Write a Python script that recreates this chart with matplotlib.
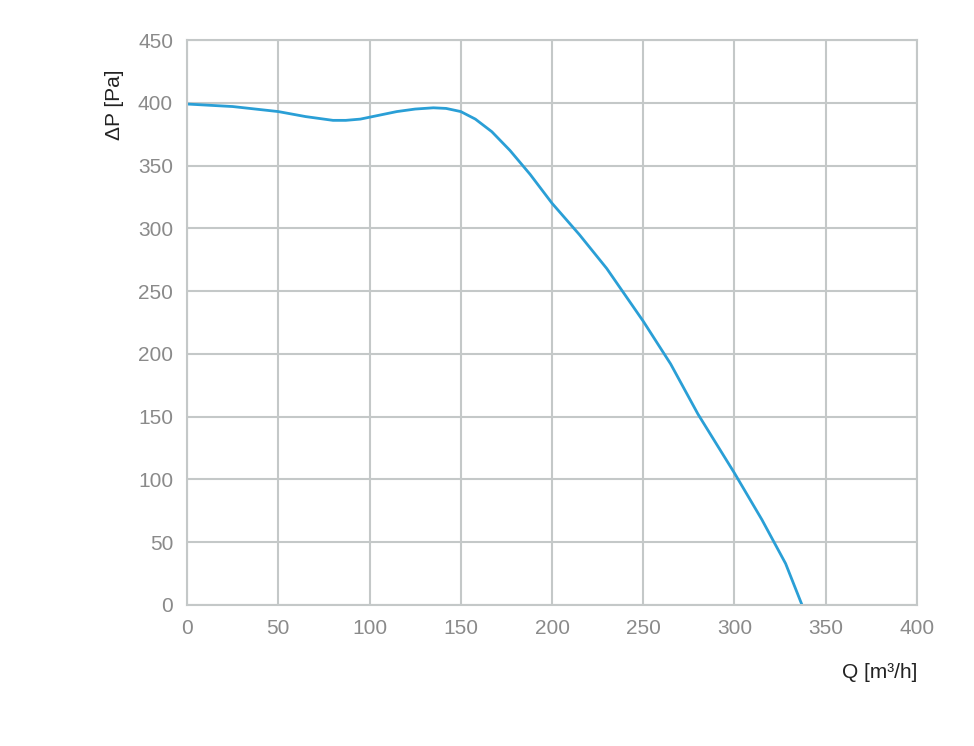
import matplotlib
matplotlib.use("Agg")
import matplotlib.pyplot as plt

q = [0, 25, 50, 65, 80, 87, 95, 105, 115, 125, 135, 142, 150, 158, 167, 177, 188, 200, 215, 230, 250, 265, 280, 300, 315, 328, 337]
dp = [399, 397, 393, 389, 386, 386, 387, 390, 393, 395, 396, 395.5, 393, 387, 377, 362, 343, 320, 295, 268, 226, 192, 152, 105, 68, 33, 0]
xticks = list(range(0, 401, 50))
yticks = list(range(0, 451, 50))

plt.rcParams['font.family'] = ['Liberation Sans', 'DejaVu Sans']
fig = plt.figure(figsize=(9.74, 7.46), dpi=100)
ax = fig.add_axes([187/974, 141/746, 730/974, 565/746])
ax.plot(q, dp, color="#2a9fd6", lw=2)
ax.set_xlim(0, 400)
ax.set_ylim(0, 450)
ax.set_xticks(xticks)
ax.set_yticks(yticks)
ax.grid(True, color="#c4c8c8", lw=1.5)
ax.set_axisbelow(True)
for s in ax.spines.values():
    s.set_color("#c4c8c8"); s.set_linewidth(1.5)
ax.tick_params(length=0, labelsize=15, labelcolor="#8a8a8a", pad=10)
fig.text(115/974, 1-105/746, "ΔP [Pa]", rotation=90, ha="center", va="center", fontsize=15, color="#222222")
fig.text(917/974, 1-672/746, "Q [m³/h]", ha="right", va="center", fontsize=15, color="#222222")
fig.savefig("out.png", dpi=100)
